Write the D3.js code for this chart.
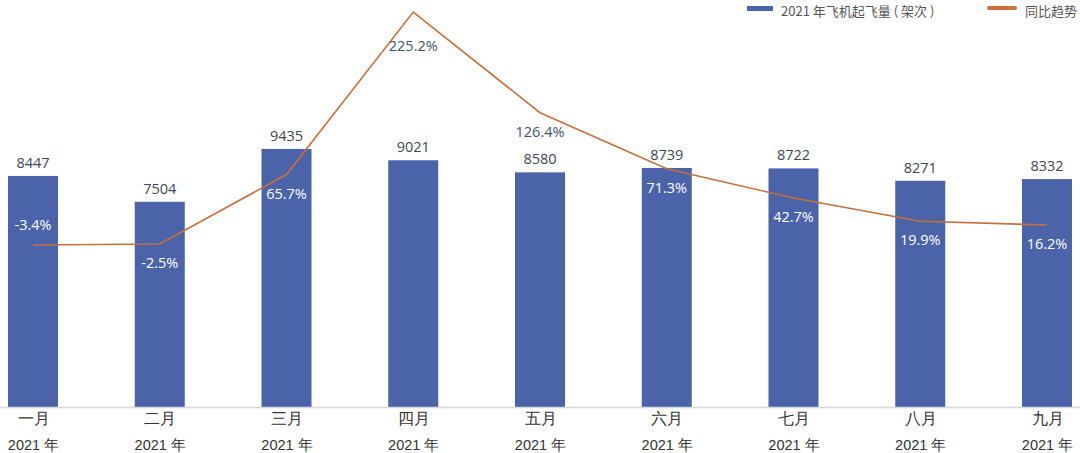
<!DOCTYPE html>
<html>
<head>
<meta charset="utf-8">
<script src="https://cdn.jsdelivr.net/npm/d3@7"></script>
<style>
  body { margin: 0; background: #fff; }
  svg { display: block; font-family: "Noto Sans CJK SC", "Noto Sans", sans-serif; }
</style>
</head>
<body>
<div class="chart"></div>
<script>
const months = ['一月', '二月', '三月', '四月', '五月', '六月', '七月', '八月', '九月'];
const yearLabel = '2021 年';
const flights = [8447, 7504, 9435, 9021, 8580, 8739, 8722, 8271, 8332];
const growth = [-3.4, -2.5, 65.7, 225.2, 126.4, 71.3, 42.7, 19.9, 16.2];
const legendNames = ['2021 年飞机起飞量 ( 架次 )', '同比趋势'];

function drawChart() {
  const w = 1080;
  const h = 453;
  const base = 407;
  const barColor = '#4a63a9';
  const lineColor = '#c8703b';

  const svg = d3.select('.chart')
    .append('svg')
    .attr('width', w)
    .attr('height', h);

  const xScale = d3.scalePoint()
    .domain(months)
    .range([33, 1047]);
  const yBar = d3.scaleLinear()
    .domain([0, 14880])
    .range([base, 0]);
  const yLine = d3.scaleLinear()
    .domain([-162.4, 237])
    .range([base, 0]);
  const barW = 50;

  // bars
  svg.selectAll('.bar')
    .data(flights)
    .enter()
    .append('rect')
    .attr('class', 'bar')
    .attr('x', (d, i) => xScale(months[i]) - barW / 2)
    .attr('y', (d) => yBar(d))
    .attr('width', barW)
    .attr('height', (d) => base - yBar(d))
    .attr('fill', barColor);

  // x axis
  svg.append('g')
    .attr('class', 'x-axis')
    .attr('transform', `translate(0, ${base})`)
    .call(d3.axisBottom(xScale).tickSize(0).tickPadding(4))
    .call((g) => {
      g.select('.domain').attr('d', `M0,0.5H${w}`).attr('stroke', '#d9d9d9').attr('stroke-width', 1.5);
      g.selectAll('.tick text').remove();
      g.selectAll('.tick').append('text')
        .attr('y', 17)
        .attr('text-anchor', 'middle')
        .attr('fill', '#333')
        .attr('font-size', 15.5)
        .text((d) => d);
      g.selectAll('.tick').append('text')
        .attr('y', 43)
        .attr('text-anchor', 'middle')
        .attr('fill', '#333')
        .attr('font-size', 14.5)
        .text(yearLabel);
    });

  // value labels
  svg.selectAll('.val')
    .data(flights)
    .enter()
    .append('text')
    .attr('class', 'val')
    .attr('x', (d, i) => xScale(months[i]))
    .attr('y', (d) => yBar(d) - 8)
    .attr('text-anchor', 'middle')
    .attr('fill', '#404856')
    .attr('font-family', 'Open Sans, sans-serif')
    .attr('font-size', 14.5)
    .text((d) => d);

  // line
  const line = d3.line()
    .x((d, i) => xScale(months[i]))
    .y((d) => yLine(d));
  svg.append('path')
    .datum(growth)
    .attr('d', line)
    .attr('fill', 'none')
    .attr('stroke', lineColor)
    .attr('stroke-width', 1.6);

  // growth labels: first one above the line, the rest below, peaks a bit further
  const labelY = (d, i) => {
    if (i === 0) return yLine(d) - 15;
    const peak = d > growth[i - 1] && d > (growth[i + 1] ?? -Infinity);
    return yLine(d) + (peak ? 39 : 24);
  };
  svg.selectAll('.pct')
    .data(growth)
    .enter()
    .append('text')
    .attr('class', 'pct')
    .attr('x', (d, i) => xScale(months[i]))
    .attr('y', labelY)
    .attr('text-anchor', 'middle')
    .attr('font-family', 'Open Sans, sans-serif')
    .attr('font-size', 14.5)
    .attr('fill', (d, i) => (labelY(d, i) - 12 > yBar(flights[i]) ? '#fff' : '#44546a'))
    .text((d) => d.toFixed(1) + '%');

  // legend
  const lg = svg.append('g').attr('class', 'legend');
  lg.append('rect').attr('x', 747).attr('y', 6).attr('width', 26).attr('height', 5).attr('fill', barColor);
  lg.append('text').attr('x', 781).attr('y', 15.5).attr('font-size', 13).attr('fill', '#555').text(legendNames[0]);
  lg.append('rect').attr('x', 987).attr('y', 6).attr('width', 30).attr('height', 4).attr('rx', 2).attr('fill', lineColor);
  lg.append('text').attr('x', 1025).attr('y', 15.5).attr('font-size', 13).attr('fill', '#555').text(legendNames[1]);
}

drawChart();
</script>
</body>
</html>
